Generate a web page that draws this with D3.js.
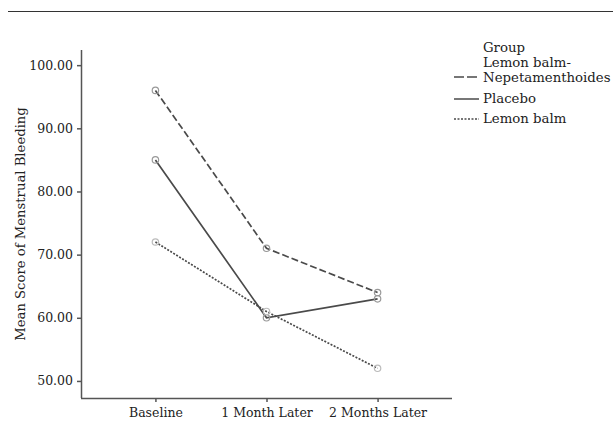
<!DOCTYPE html>
<html><head><meta charset="utf-8">
<script src="https://cdn.jsdelivr.net/npm/d3@7"></script>
<style>body{margin:0;background:#fff}svg{display:block}text{font-family:"DejaVu Serif",serif;fill:#222}</style>
</head><body><svg id="c" width="613" height="423"></svg>
<script>
const categories = ["Baseline", "1 Month Later", "2 Months Later"];
const seriesNames = ["Lemon balm-Nepetamenthoides", "Placebo", "Lemon balm"];
const lemonBalmNepeta = [96, 71, 64];
const placebo = [85, 60, 63];
const lemonBalm = [72, 61, 52];
const yTicks = [50, 60, 70, 80, 90, 100];
const yTitle = "Mean Score of Menstrual Bleeding";
const legendTitle = "Group";

const series = [
  {name: seriesNames[0], values: lemonBalmNepeta, dash: "7,3", lines: ["Lemon balm-", "Nepetamenthoides"], legDash: "10,3", mark: "#999"},
  {name: seriesNames[1], values: placebo, dash: null, lines: ["Placebo"], legDash: null, mark: "#999"},
  {name: seriesNames[2], values: lemonBalm, dash: "2,1.5", lines: ["Lemon balm"], legDash: "2,1.5", mark: "#bbb"}
];

const svg = d3.select("#c");
const pL = 81, pR = 452, pT = 50, pB = 398;
const x = d3.scalePoint().domain(categories).range([pL, pR]).padding(0.67);
const y = d3.scaleLinear().domain([47.3, 102.4]).range([pB, pT]);

svg.append("line").attr("x1", 8).attr("x2", 613).attr("y1", 11.5).attr("y2", 11.5)
  .attr("stroke", "#333").attr("stroke-width", 1.2);

const axisColor = "#555";
const gy = svg.append("g").attr("transform", `translate(${pL},0)`)
  .call(d3.axisLeft(y).tickValues(yTicks).tickFormat(d3.format(".2f")).tickSize(4).tickSizeOuter(0));
const gx = svg.append("g").attr("transform", `translate(0,${pB})`)
  .call(d3.axisBottom(x).tickSize(4).tickSizeOuter(0));
[gy, gx].forEach(g => {
  g.select(".domain").attr("stroke", axisColor).attr("stroke-width", 1.5);
  g.selectAll(".tick line").attr("stroke", axisColor).attr("stroke-width", 1.5);
  g.selectAll("text").attr("font-family", "DejaVu Serif").attr("font-size", 12.5).attr("fill", "#222");
});
gy.selectAll("text").attr("x", -8);
gx.selectAll("text").attr("y", 10);
gx.select(".domain").attr("d", `M${pL},0.5H${pR}`);
gy.select(".domain").attr("d", `M0.5,${pB}V${pT}`);

svg.append("text").attr("transform", `translate(25,${(pT + pB) / 2}) rotate(-90)`)
  .attr("text-anchor", "middle").attr("font-size", 13.2).text(yTitle);

const line = d3.line().x((d, i) => x(categories[i])).y(d => y(d));
series.forEach(s => {
  svg.append("path").datum(s.values).attr("d", line).attr("fill", "none")
    .attr("stroke", "#4a4a4a").attr("stroke-width", 1.7)
    .attr("stroke-dasharray", s.dash);
});
series.forEach(s => {
  svg.selectAll(null).data(s.values).enter().append("circle")
    .attr("cx", (d, i) => x(categories[i])).attr("cy", d => y(d)).attr("r", 3.2)
    .attr("fill", "none").attr("stroke", s.mark).attr("stroke-width", 1.2);
});

// legend
const lg = svg.append("g");
lg.append("text").attr("x", 483).attr("y", 52).attr("font-size", 13.3).text(legendTitle);
const legY = [[67, 82], [103], [123]];
const symY = [77, 99, 119];
series.forEach((s, k) => {
  lg.append("line").attr("x1", 454).attr("x2", 479).attr("y1", symY[k]).attr("y2", symY[k])
    .attr("stroke", "#4a4a4a").attr("stroke-width", 1.5).attr("stroke-dasharray", s.legDash);
  s.lines.forEach((t, j) => {
    lg.append("text").attr("x", 483).attr("y", legY[k][j]).attr("font-size", 13.3).text(t);
  });
});
</script></body></html>
